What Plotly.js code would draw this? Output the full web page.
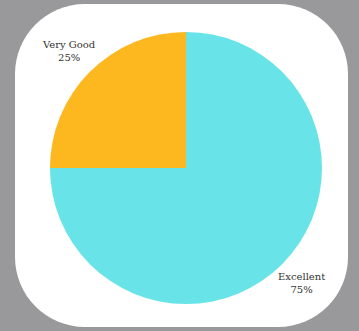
<!DOCTYPE html>
<html>
<head>
<meta charset="utf-8">
<script src="https://cdn.plot.ly/plotly-3.0.1.min.js"></script>
<style>
html,body{margin:0;padding:0;background:#99999b;}
#chart{width:359px;height:331px;}
</style>
</head>
<body>
<div id="chart"></div>
<script>
var categories = ["Excellent", "Very Good"];
var values = [75, 25];
var colors = ["#68e4e8", "#fdb71f"];
var labelPos = [[301, 283], [69, 51]];

var W = 359, H = 331;
function px(x){ return x / W; }
function py(y){ return 1 - y / H; }

// rounded rectangle background in paper coordinates (margins are zero)
var L = 15, T = 4, R = 348, B = 327, r = 70, k = 0.4477;
function P(x, y){ return px(x).toFixed(5) + "," + py(y).toFixed(5); }
var path = "M" + P(L + r, T) +
  " L" + P(R - r, T) +
  " C" + P(R - r * k, T) + " " + P(R, T + r * k) + " " + P(R, T + r) +
  " L" + P(R, B - r) +
  " C" + P(R, B - r * k) + " " + P(R - r * k, B) + " " + P(R - r, B) +
  " L" + P(L + r, B) +
  " C" + P(L + r * k, B) + " " + P(L, B - r * k) + " " + P(L, B - r) +
  " L" + P(L, T + r) +
  " C" + P(L, T + r * k) + " " + P(L + r * k, T) + " " + P(L + r, T) + " Z";

var total = values.reduce(function(a, b){ return a + b; }, 0);
var annotations = categories.map(function(c, i){
  return {
    xref: "paper", yref: "paper",
    x: px(labelPos[i][0]), y: py(labelPos[i][1]),
    xanchor: "center", yanchor: "middle",
    text: c + "<br>" + Math.round(values[i] / total * 100) + "%",
    showarrow: false,
    font: {family: "DejaVu Serif", size: 10, color: "#333333"}
  };
});

var data = [{
  type: "pie",
  labels: categories,
  values: values,
  sort: false,
  direction: "clockwise",
  rotation: 0,
  marker: {colors: colors, line: {width: 0}},
  textinfo: "none",
  hoverinfo: "label+percent",
  domain: {x: [px(50), px(322)], y: [py(304), py(32)]}
}];

var layout = {
  width: W, height: H,
  margin: {l: 0, r: 0, t: 0, b: 0, pad: 0},
  paper_bgcolor: "#99999b",
  plot_bgcolor: "rgba(0,0,0,0)",
  showlegend: false,
  shapes: [{
    type: "path", xref: "paper", yref: "paper", path: path,
    fillcolor: "#ffffff", line: {width: 0}, layer: "below"
  }],
  annotations: annotations
};

Plotly.newPlot("chart", data, layout, {displayModeBar: false, staticPlot: true});
</script>
</body>
</html>
